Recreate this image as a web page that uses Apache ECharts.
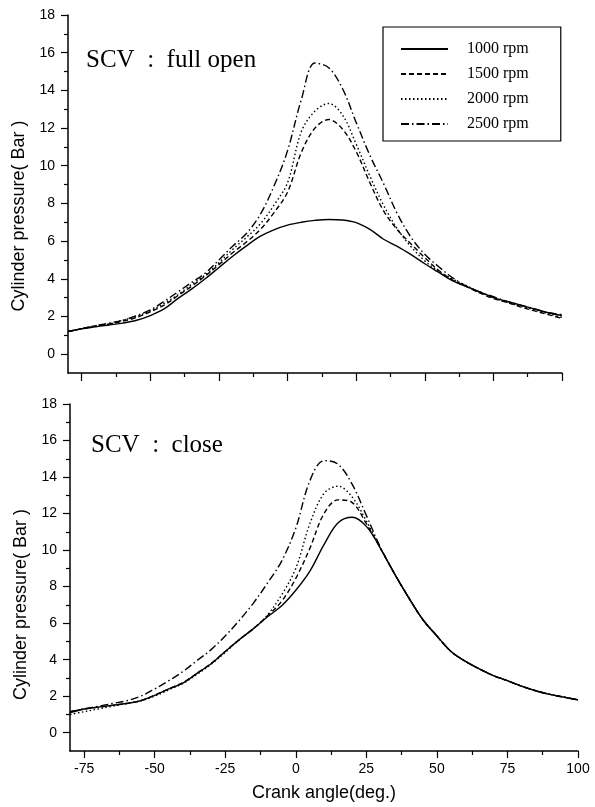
<!DOCTYPE html>
<html>
<head>
<meta charset="utf-8">
<script src="https://cdn.jsdelivr.net/npm/echarts@6.0.0/dist/echarts.min.js"></script>
<style>
  html, body { margin: 0; padding: 0; background: #fff; }
  #chart { width: 595px; height: 807px; }
</style>
</head>
<body>
<div id="chart"></div>
<script>
// crank angle, every 5 deg
const angles = [-80, -75, -70, -65, -60, -55, -50, -45, -40, -35, -30, -25, -20, -15, -10, -5, 0,
  5, 10, 15, 20, 25, 30, 35, 40, 45, 50, 55, 60, 65, 70, 75, 80, 85, 90, 95, 100]

const rpmNames = ['1000 rpm', '1500 rpm', '2000 rpm', '2500 rpm']

// SCV : full open
const open1000 = [1.2, 1.35, 1.45, 1.55, 1.65, 1.8, 2.05, 2.4, 2.95, 3.45, 4.0, 4.6, 5.2, 5.75, 6.25, 6.6, 6.85,
  7.0, 7.1, 7.15, 7.12, 6.98, 6.62, 6.1, 5.72, 5.28, 4.8, 4.35, 3.9, 3.6, 3.3, 3.0, 2.8, 2.6, 2.4, 2.2, 2.05]
const open1500 = [1.2, 1.35, 1.5, 1.6, 1.75, 1.95, 2.25, 2.6, 3.1, 3.6, 4.15, 4.75, 5.38, 5.95, 6.6, 7.5, 8.6,
  10.7, 12.0, 12.45, 11.95, 10.75, 9.1, 7.6, 6.6, 5.85, 5.12, 4.45, 3.95, 3.6, 3.25, 2.95, 2.75, 2.5, 2.3, 2.1, 1.9]
const open2000 = [1.2, 1.35, 1.5, 1.6, 1.8, 2.0, 2.3, 2.7, 3.15, 3.7, 4.2, 4.85, 5.56, 6.2, 6.9, 7.9, 9.1,
  11.8, 12.9, 13.3, 12.7, 11.15, 9.45, 7.9, 6.65, 5.7, 4.95, 4.4, 4.0, 3.65, 3.3, 3.0, 2.75, 2.55, 2.35, 2.15, 1.95]
const open2500 = [1.2, 1.35, 1.5, 1.65, 1.8, 2.05, 2.35, 2.8, 3.3, 3.8, 4.3, 5.0, 5.73, 6.4, 7.4, 8.9, 10.8,
  13.5, 15.45, 15.2, 14.1, 12.3, 10.55, 9.05, 7.45, 6.2, 5.3, 4.65, 4.07, 3.62, 3.3, 3.05, 2.8, 2.6, 2.4, 2.2, 2.1]

// SCV : close
const close1000 = [1.1, 1.3, 1.4, 1.5, 1.6, 1.75, 2.05, 2.4, 2.72, 3.25, 3.78, 4.45, 5.1, 5.7, 6.35, 6.95, 7.8,
  8.85, 10.3, 11.5, 11.8, 11.3, 10.1, 8.7, 7.4, 6.2, 5.3, 4.45, 3.92, 3.5, 3.13, 2.85, 2.55, 2.3, 2.1, 1.95, 1.8]
const close1500 = [1.15, 1.3, 1.4, 1.5, 1.6, 1.75, 2.05, 2.4, 2.75, 3.25, 3.8, 4.45, 5.1, 5.7, 6.4, 7.2, 8.45,
  10.1, 12.0, 12.75, 12.6, 11.45, 10.1, 8.7, 7.4, 6.2, 5.3, 4.45, 3.92, 3.5, 3.13, 2.85, 2.55, 2.3, 2.1, 1.95, 1.8]
const close2000 = [1.0, 1.15, 1.3, 1.45, 1.6, 1.75, 2.0, 2.35, 2.7, 3.2, 3.75, 4.4, 5.1, 5.7, 6.45, 7.55, 9.0,
  11.45, 13.1, 13.5, 12.9, 11.6, 10.1, 8.7, 7.4, 6.2, 5.3, 4.45, 3.92, 3.5, 3.13, 2.85, 2.55, 2.3, 2.1, 1.95, 1.8]
const close2500 = [1.15, 1.3, 1.45, 1.6, 1.75, 2.0, 2.4, 2.85, 3.35, 3.95, 4.55, 5.3, 6.15, 7.1, 8.2, 9.4, 11.2,
  13.8, 14.9, 14.7, 13.6, 11.9, 10.15, 8.7, 7.4, 6.2, 5.3, 4.45, 3.92, 3.5, 3.13, 2.85, 2.55, 2.3, 2.1, 1.95, 1.8]

const majorX = [-75, -50, -25, 0, 25, 50, 75, 100]
const minorX = [-62.5, -37.5, -12.5, 12.5, 37.5, 62.5, 87.5]
const majorY = [0, 2, 4, 6, 8, 10, 12, 14, 16, 18]
const minorY = [1, 3, 5, 7, 9, 11, 13, 15, 17]

const lineTypes = ['solid', [5, 3], [1.5, 2.5], [8, 3, 1.5, 3]]

const sans = 'Liberation Sans'
const serif = 'Liberation Serif'

function zip(values) {
  return angles.map((a, i) => [a, values[i]])
}

function xAxes(g, bottom) {
  return [{
    type: 'value', gridIndex: g, min: -80, max: 100, position: 'bottom',
    splitLine: {show: false},
    axisLine: {onZero: false, lineStyle: {color: '#000', width: 1.5}},
    axisTick: {customValues: majorX, length: bottom ? 7 : 8, lineStyle: {color: '#000', width: 1.2}},
    axisLabel: {show: bottom, customValues: majorX, color: '#000', fontFamily: sans, fontSize: 14, margin: 11},
    name: bottom ? 'Crank angle(deg.)' : '',
    nameLocation: 'middle', nameGap: 33,
    nameTextStyle: {color: '#000', fontFamily: sans, fontSize: 18}
  }, {
    type: 'value', gridIndex: g, min: -80, max: 100, position: 'bottom',
    splitLine: {show: false},
    axisLine: {show: false, onZero: false},
    axisTick: {customValues: minorX, length: 4, lineStyle: {color: '#000', width: 1.2}},
    axisLabel: {show: false}
  }]
}

function yAxes(g, shift) {
  return [{
    type: 'value', gridIndex: g, min: -1, max: 18, position: 'left',
    splitLine: {show: false},
    axisLine: {onZero: false, lineStyle: {color: '#000', width: 1.5}},
    axisTick: {customValues: majorY, length: 7, lineStyle: {color: '#000', width: 1.2}},
    axisLabel: {customValues: majorY, color: '#000', fontFamily: sans, fontSize: 14, margin: 13},
    name: 'Cylinder pressure( Bar )',
    nameLocation: 'middle', nameGap: 32,
    nameTextStyle: {color: '#000', fontFamily: sans, fontSize: 18, padding: [0, shift, 0, 0]}
  }, {
    type: 'value', gridIndex: g, min: -1, max: 18, position: 'left',
    splitLine: {show: false},
    axisLine: {show: false, onZero: false},
    axisTick: {customValues: minorY, length: 4, lineStyle: {color: '#000', width: 1.2}},
    axisLabel: {show: false}
  }]
}

function panelSeries(g, sets) {
  return sets.map((values, i) => ({
    name: rpmNames[i],
    type: 'line',
    xAxisIndex: 2 * g,
    yAxisIndex: 2 * g,
    data: zip(values),
    smooth: 0.35,
    symbol: 'none',
    lineStyle: {color: '#000', width: 1.4, type: lineTypes[i]},
    itemStyle: {color: '#000'}
  }))
}

const chart = echarts.init(document.getElementById('chart'), null, {renderer: 'canvas'})

chart.setOption({
  animation: false,
  backgroundColor: '#fff',
  color: ['#000'],
  grid: [
    {left: 68, top: 15, width: 494, height: 358, outerBoundsMode: 'none'},
    {left: 70, top: 404, width: 508, height: 347, outerBoundsMode: 'none'}
  ],
  title: [
    {text: 'SCV  :  full open', left: 81, top: 43,
      textStyle: {fontFamily: serif, fontSize: 25, fontWeight: 'normal', color: '#000'}},
    {text: 'SCV  :  close', left: 86, top: 428,
      textStyle: {fontFamily: serif, fontSize: 25, fontWeight: 'normal', color: '#000'}}
  ],
  legend: {
    data: rpmNames,
    orient: 'vertical',
    left: 383, top: 27,
    padding: [14, 32, 9, 17],
    itemWidth: 47, itemHeight: 14, itemGap: 9,
    borderColor: '#000', borderWidth: 1.2,
    itemStyle: {opacity: 0},
    textStyle: {fontFamily: serif, fontSize: 16, color: '#000', padding: [0, 0, 0, 14]}
  },
  xAxis: [...xAxes(0, false), ...xAxes(1, true)],
  yAxis: [...yAxes(0, 44), ...yAxes(1, 54)],
  series: [
    ...panelSeries(0, [open1000, open1500, open2000, open2500]),
    ...panelSeries(1, [close1000, close1500, close2000, close2500])
  ]
})
</script>
</body>
</html>
